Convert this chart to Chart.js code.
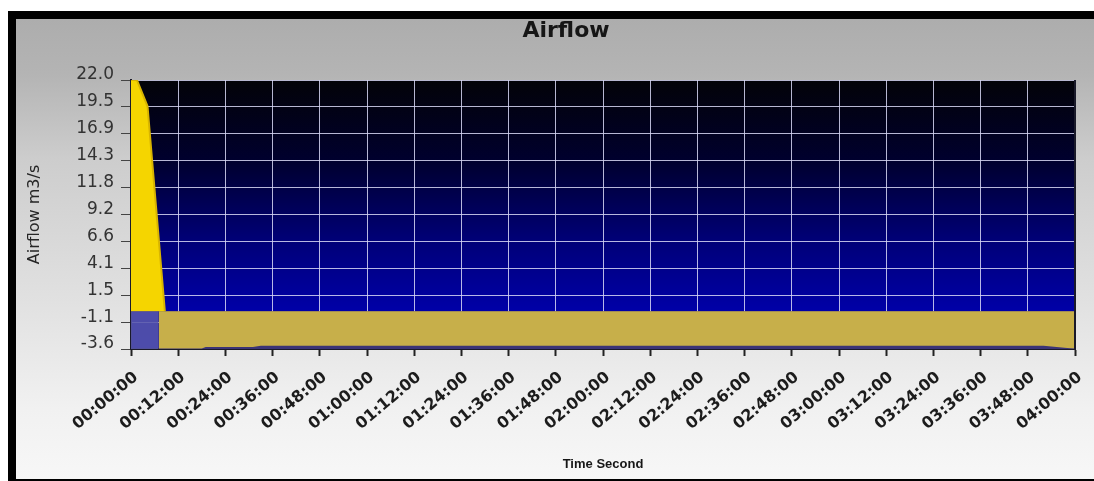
<!DOCTYPE html>
<html>
<head>
<meta charset="utf-8">
<title>Airflow</title>
<script src="https://cdn.jsdelivr.net/npm/chart.js@4.4.0/dist/chart.umd.min.js"></script>
<style>
  html, body { margin: 0; padding: 0; background: #fff; width: 1094px; height: 481px; overflow: hidden; }
  #frame {
    position: absolute; left: 8px; top: 11px;
    width: 1100px; height: 460px;
    border: 8px solid #000; border-right: none;
    background: linear-gradient(to bottom, #adadad 0px, #b4b4b4 55px, #cdcdcd 140px, #e2e2e2 290px, #f1f1f1 390px, #f7f7f7 460px);
  }
  #chart { display: block; }
</style>
</head>
<body>
<div id="frame"><canvas id="chart" width="1100" height="460" style="width:1100px;height:460px"></canvas></div>
<script>
const chartTitle = "Airflow";

// x axis tick labels, one every 12 minutes
const xTickLabels = [
  "00:00:00", "00:12:00", "00:24:00", "00:36:00", "00:48:00", "01:00:00", "01:12:00",
  "01:24:00", "01:36:00", "01:48:00", "02:00:00", "02:12:00", "02:24:00", "02:36:00",
  "02:48:00", "03:00:00", "03:12:00", "03:24:00", "03:36:00", "03:48:00", "04:00:00"
];
const yTickValues = [-3.6, -1.1, 1.5, 4.1, 6.6, 9.2, 11.8, 14.3, 16.9, 19.5, 22.0];

// time in minutes from start
const airflowTime = [0, 1.5, 4.2, 8.6];
const airflowValue = [22.0, 22.0, 19.5, 0];

const bandTime = [7, 18, 19, 31, 33, 46, 232, 238, 240];
const bandValue = [-3.55, -3.55, -3.4, -3.4, -3.3, -3.3, -3.3, -3.5, -3.55];

const blockTime = [0, 7];
const blockValue = [-3.6, -3.6];

const baseTime = [7, 240];
const baseValue = [-3.6, -3.6];

function pts(xs, ys) {
  return xs.map((x, i) => ({ x: x, y: ys[i] }));
}

const plotBackground = {
  id: "plotBackground",
  beforeDraw(chart) {
    const a = chart.chartArea;
    const ctx = chart.ctx;
    const g = ctx.createLinearGradient(0, a.top, 0, a.bottom);
    g.addColorStop(0, "#030308");
    g.addColorStop(0.3, "#00002e");
    g.addColorStop(0.6, "#000078");
    g.addColorStop(0.85, "#0000a6");
    g.addColorStop(1, "#0000b4");
    ctx.save();
    ctx.fillStyle = g;
    ctx.fillRect(a.left, a.top, a.right - a.left, a.bottom - a.top);
    ctx.restore();
  }
};

// title centred on the whole frame, not on the padded layout box
const frameTitle = {
  id: "frameTitle",
  afterDraw(chart) {
    const ctx = chart.ctx;
    ctx.save();
    ctx.fillStyle = "#161616";
    ctx.font = "bold 22px 'DejaVu Sans'";
    ctx.textAlign = "center";
    ctx.textBaseline = "middle";
    ctx.fillText(chartTitle, chart.width / 2, 12);
    ctx.restore();
  }
};

const rightEdge = {
  id: "rightEdge",
  afterDatasetsDraw(chart) {
    const a = chart.chartArea;
    const ctx = chart.ctx;
    ctx.save();
    ctx.strokeStyle = "#1a1a2a";
    ctx.lineWidth = 2;
    ctx.beginPath();
    ctx.moveTo(a.right, a.top);
    ctx.lineTo(a.right, a.bottom);
    ctx.stroke();
    ctx.restore();
  }
};

const gridColor = "rgba(215,215,245,0.85)";

new Chart(document.getElementById("chart").getContext("2d"), {
  type: "line",
  data: {
    datasets: [
      {
        label: "Airflow",
        data: pts(airflowTime, airflowValue),
        borderColor: "#d8b400",
        borderWidth: 2,
        backgroundColor: "#f5d500",
        fill: "origin",
        pointRadius: 0,
        tension: 0
      },
      {
        label: "Band",
        data: pts(bandTime, bandValue),
        borderWidth: 0,
        borderColor: "rgba(0,0,0,0)",
        backgroundColor: "#c7af4a",
        fill: "origin",
        pointRadius: 0,
        tension: 0
      },
      {
        label: "Block",
        data: pts(blockTime, blockValue),
        borderWidth: 0,
        borderColor: "rgba(0,0,0,0)",
        backgroundColor: "rgba(88,86,170,0.88)",
        fill: "origin",
        pointRadius: 0,
        tension: 0
      },
      {
        label: "Base",
        data: pts(baseTime, baseValue),
        borderWidth: 0,
        borderColor: "rgba(0,0,0,0)",
        backgroundColor: "#3b3476",
        fill: "origin",
        pointRadius: 0,
        tension: 0
      }
    ]
  },
  options: {
    responsive: false,
    animation: false,
    layout: { padding: { left: 5, right: 41, top: 61, bottom: 0 } },
    plugins: {
      legend: { display: false },
      tooltip: { enabled: false },
      title: { display: false }
    },
    scales: {
      x: {
        type: "linear",
        min: 0,
        max: 240,
        afterBuildTicks: (s) => { s.ticks = xTickLabels.map((_, i) => ({ value: i * 12 })); },
        afterFit: (s) => { s.height = 130; },
        ticks: {
          autoSkip: false,
          minRotation: 40,
          maxRotation: 40,
          padding: 12,
          labelOffset: 5,
          color: "#1c1c1c",
          font: { family: "DejaVu Sans", size: 16, weight: "bold" },
          callback: (v, i) => xTickLabels[i]
        },
        grid: { color: gridColor, lineWidth: 1, tickLength: 7, tickColor: "#222", tickWidth: 2 },
        border: { display: true, color: "#1a1a2a", width: 2 },
        title: {
          display: true,
          text: "Time Second",
          color: "#161616",
          font: { family: "Liberation Sans", size: 13, weight: "bold" },
          padding: { top: 0, bottom: 7 }
        }
      },
      y: {
        min: -3.6,
        max: 22.0,
        afterBuildTicks: (s) => { s.ticks = yTickValues.map((v) => ({ value: v })); },
        afterFit: (s) => { s.width = 110; },
        ticks: {
          color: "#333",
          font: { family: "DejaVu Sans", size: 17 },
          padding: 7,
          labelOffset: -5,
          callback: (v) => v.toFixed(1)
        },
        grid: { color: gridColor, lineWidth: 1, tickLength: 10, tickColor: "#444", tickWidth: 1 },
        border: { display: true, color: "#1a1a2a", width: 2 },
        title: {
          display: true,
          text: "Airflow m3/s",
          color: "#262626",
          font: { family: "DejaVu Sans", size: 16 },
          padding: { top: 4, bottom: 0 }
        }
      }
    }
  },
  plugins: [plotBackground, rightEdge, frameTitle]
});
</script>
</body>
</html>
